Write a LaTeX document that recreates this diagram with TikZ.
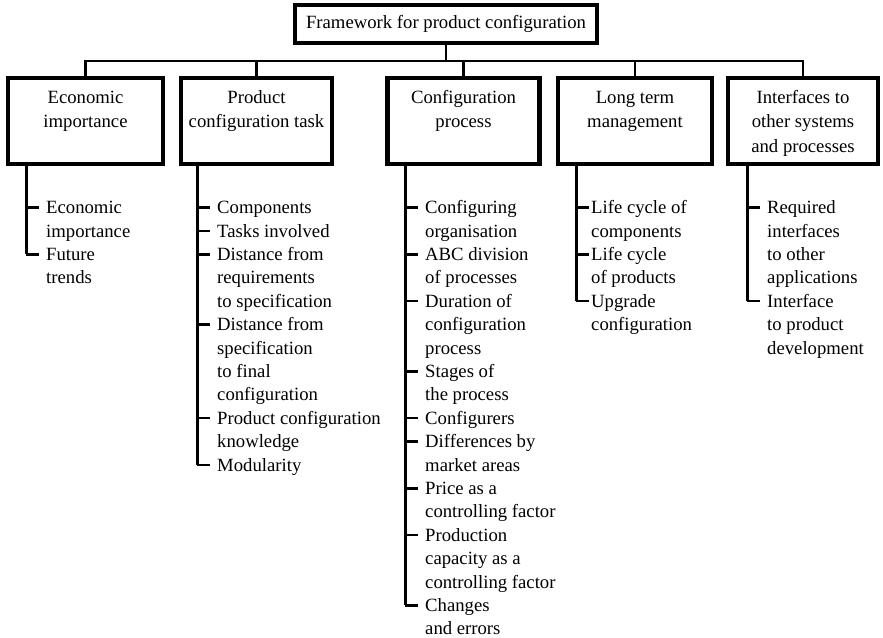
\documentclass[tikz,border=0pt]{standalone}
\usepackage{fontspec}
\setmainfont{Liberation Serif}
\begin{document}
\begin{tikzpicture}[x=1bp,y=-1bp,
  txt/.style={font=\fontsize{18.7bp}{23.4bp}\selectfont},
  box/.style={draw,line width=4.2bp,inner sep=0pt,txt},
  boxtext/.style={font=\fontsize{18.7bp}{24.5bp}\selectfont,anchor=north,align=center,inner sep=0pt},
  itemtext/.style={txt,anchor=north west,align=left,inner sep=0pt},
  conn/.style={line width=2.7bp},
  spine/.style={line width=3bp},
  tick/.style={line width=2.7bp}]
\useasboundingbox (0,0) rectangle (883,638);
% top box
\node[box,minimum width=302bp,minimum height=38bp] (top) at (446,24) {\strut Framework for product configuration};
% category boxes
\node[box,minimum width=155bp,minimum height=86bp] (b1) at (85.5,121) {};
\node[box,minimum width=151bp,minimum height=86bp] (b2) at (256.5,121) {};
\node[box,minimum width=152bp,minimum height=86bp] (b3) at (463.5,121) {};
\node[box,minimum width=154bp,minimum height=86bp] (b4) at (635,121) {};
\node[box,minimum width=150bp,minimum height=86bp] (b5) at (803,121) {};
\node[boxtext] (b1t) at (85.5,86) {\strut Economic\\importance};
\node[boxtext] (b2t) at (256.5,86) {\strut Product\\configuration task};
\node[boxtext] (b3t) at (463.5,86) {\strut Configuration\\process};
\node[boxtext] (b4t) at (635,86) {\strut Long term\\management};
\node[boxtext] (b5t) at (803,86) {\strut Interfaces to\\other systems\\and processes};
% bus
\coordinate (bus) at (0,61);
\draw[conn] (top.south) -- (top.south |- bus);
\draw[conn] (b1.north) -- (b1.north |- bus) -- (b5.north |- bus) -- (b5.north);
\draw[conn] (b2.north) -- (b2.north |- bus);
\draw[conn] (b3.north) -- (b3.north |- bus);
\draw[conn] (b4.north) -- (b4.north |- bus);
% item lists
\def\yz{207.5}
\def\ls{23.4}
% box 1
\foreach \l/\t in {0/{Economic\\importance},2/{Future\\trends}}{
  \coordinate (b1-\l-t) at (26,\yz+\l*\ls);
  \node[itemtext] (b1-\l) at (46,\yz+\l*\ls-10.4) {\strut\t};
  \draw[tick] (b1-\l-t) -- ++(13,0);
}
\draw[spine] (b1.south -| b1-0-t) -- (b1-2-t);
% box 2
\foreach \l/\t in {0/{Components},1/{Tasks involved},2/{Distance from\\requirements\\to specification},5/{Distance from\\specification\\to final\\configuration},9/{Product configuration\\knowledge},11/{Modularity}}{
  \coordinate (b2-\l-t) at (197,\yz+\l*\ls);
  \node[itemtext] (b2-\l) at (217,\yz+\l*\ls-10.4) {\strut\t};
  \draw[tick] (b2-\l-t) -- ++(13,0);
}
\draw[spine] (b2.south -| b2-0-t) -- (b2-11-t);
% box 3
\foreach \l/\t in {0/{Configuring\\organisation},2/{ABC division\\of processes},4/{Duration of\\configuration\\process},7/{Stages of\\the process},9/{Configurers},10/{Differences by\\market areas},12/{Price as a\\controlling factor},14/{Production\\capacity as a\\controlling factor},17/{Changes\\and errors}}{
  \coordinate (b3-\l-t) at (405,\yz+\l*\ls);
  \node[itemtext] (b3-\l) at (425,\yz+\l*\ls-10.4) {\strut\t};
  \draw[tick] (b3-\l-t) -- ++(13,0);
}
\draw[spine] (b3.south -| b3-0-t) -- (b3-17-t);
% box 4
\foreach \l/\t in {0/{Life cycle of\\components},2/{Life cycle\\of products},4/{Upgrade\\configuration}}{
  \coordinate (b4-\l-t) at (576,\yz+\l*\ls);
  \node[itemtext] (b4-\l) at (591,\yz+\l*\ls-10.4) {\strut\t};
  \draw[tick] (b4-\l-t) -- ++(13,0);
}
\draw[spine] (b4.south -| b4-0-t) -- (b4-4-t);
% box 5
\foreach \l/\t in {0/{Required\\interfaces\\to other\\applications},4/{Interface\\to product\\development}}{
  \coordinate (b5-\l-t) at (747,\yz+\l*\ls);
  \node[itemtext] (b5-\l) at (767,\yz+\l*\ls-10.4) {\strut\t};
  \draw[tick] (b5-\l-t) -- ++(13,0);
}
\draw[spine] (b5.south -| b5-0-t) -- (b5-4-t);
\end{tikzpicture}
\end{document}
